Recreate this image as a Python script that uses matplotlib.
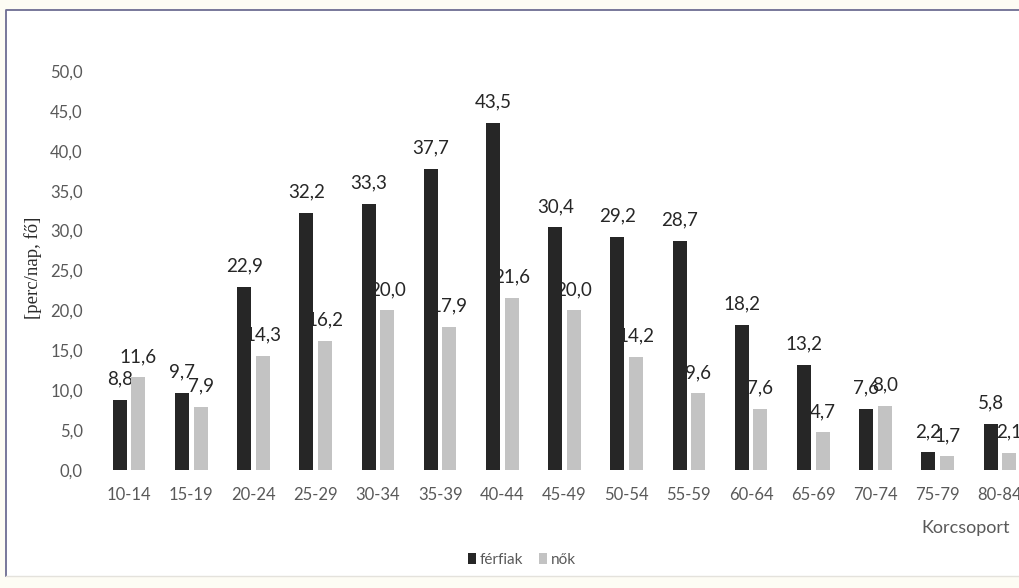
import matplotlib
matplotlib.use("Agg")
import matplotlib.pyplot as plt
from matplotlib.patches import Rectangle
from matplotlib.lines import Line2D
import numpy as np

plt.rcParams["font.family"] = ["Lato", "DejaVu Sans"]

# ---------- data -------------------------------------------------------
age_groups = ["10-14", "15-19", "20-24", "25-29", "30-34", "35-39", "40-44",
              "45-49", "50-54", "55-59", "60-64", "65-69", "70-74", "75-79",
              "80-84"]
ferfiak = [8.8, 9.7, 22.9, 32.2, 33.3, 37.7, 43.5, 30.4, 29.2, 28.7, 18.2,
           13.2, 7.6, 2.2, 5.8]
nok = [11.6, 7.9, 14.3, 16.2, 20.0, 17.9, 21.6, 20.0, 14.2, 9.6, 7.6, 4.7,
       8.0, 1.7, 2.1]
yticks = np.arange(0, 55, 5)

DARK = "#262626"
LIGHT = "#c3c3c3"
TXT = "#595959"

def fmt(v):
    return f"{v:.1f}".replace(".", ",")

# ---------- figure -----------------------------------------------------
W, H = 1019, 588
fig = plt.figure(figsize=(W / 100, H / 100), dpi=100)
fig.patch.set_facecolor("#fdfcf4")

# white panel, framed on the left and top, soft bottom edge
top, bot, left = 1 - 10 / H, 1 - 576 / H, 6 / W
fig.patches.append(Rectangle((left, bot), 1.1, top - bot,
                             transform=fig.transFigure, facecolor="white",
                             edgecolor="none", zorder=-1))
fig.lines.append(Line2D([left, left, 1.0], [bot, top, top],
                        transform=fig.transFigure, color="#6d6d92", lw=1.3))
fig.lines.append(Line2D([left, 1.0], [bot, bot], transform=fig.transFigure,
                        color="#e4e2dc", lw=1.0))

ax = fig.add_axes([98 / W, (H - 470) / H, 933 / W, 399 / H])
ax.set_facecolor("none")

x = np.arange(len(age_groups))
bw = 0.225
off = 0.15
b1 = ax.bar(x - off, ferfiak, bw, color=DARK, label="férfiak", zorder=3)
b2 = ax.bar(x + off, nok, bw, color=LIGHT, label="nők", zorder=3)

for bars, vals in ((b1, ferfiak), (b2, nok)):
    for r, v in zip(bars, vals):
        ax.annotate(fmt(v), (r.get_x() + r.get_width() / 2, v),
                    xytext=(0, 9), textcoords="offset points",
                    ha="center", va="bottom", fontsize=13.5, color=DARK,
                    zorder=2, annotation_clip=False)

ax.set_xlim(-0.5, len(age_groups) - 0.5)
ax.set_ylim(0, 50)
ax.set_yticks(yticks)
ax.set_yticklabels([fmt(t) for t in yticks])
ax.set_xticks(x)
ax.set_xticklabels(age_groups)
ax.tick_params(axis="y", length=0, pad=11, labelsize=12, labelcolor=TXT)
ax.tick_params(axis="x", length=0, pad=12, labelsize=12, labelcolor=TXT)
for s in ax.spines.values():
    s.set_visible(False)

fig.text(33 / W, 1 - 268 / H, "[perc/nap, fő]", rotation=90, ha="center",
         va="center", fontsize=13.5, color="#2a2a2a",
         family=["Liberation Serif", "DejaVu Serif"])
fig.text(966 / W, 1 - 528 / H, "Korcsoport", ha="center", va="center",
         fontsize=13, color=TXT)

fig.legend(handles=[b1, b2], loc="center", ncol=2, frameon=False,
           bbox_to_anchor=(522 / W, 1 - 560 / H), fontsize=11,
           labelcolor=TXT, handlelength=0.55, handleheight=0.75,
           handletextpad=0.25, columnspacing=1.0)

fig.savefig("out.png", dpi=100, facecolor=fig.get_facecolor())
